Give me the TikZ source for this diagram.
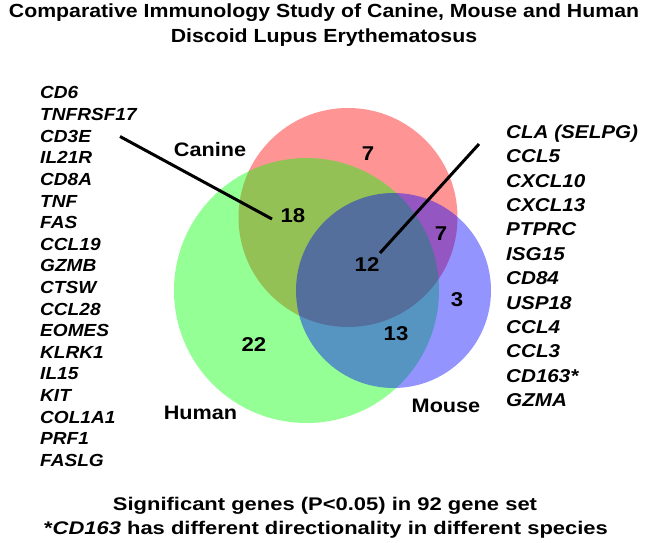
\documentclass[tikz,border=0pt]{standalone}
\usepackage{fontspec}
\setmainfont{Liberation Sans}
\newfontfamily\leftfont[FakeStretch=1.09]{Liberation Sans}
\newfontfamily\rightfont[FakeStretch=1.11]{Liberation Sans}
\newfontfamily\titlefont[FakeStretch=1.12]{Liberation Sans}
\newfontfamily\labfont[FakeStretch=1.11]{Liberation Sans}
\newfontfamily\footfont[FakeStretch=1.2]{Liberation Sans}
\definecolor{cred}{RGB}{255,0,0}
\definecolor{cgreen}{RGB}{0,255,0}
\definecolor{cblue}{RGB}{0,0,255}
\tikzset{
  setcircle/.style={opacity=0.42},
  lgene/.style={anchor=base west, inner sep=0pt, font=\leftfont\fontsize{17.5}{20}\selectfont\bfseries\itshape},
  rgene/.style={anchor=base west, inner sep=0pt, font=\rightfont\fontsize{18.6}{22}\selectfont\bfseries\itshape},
  titletext/.style={anchor=base, inner sep=0pt, font=\titlefont\fontsize{19}{22}\selectfont\bfseries},
  foottext/.style={anchor=base, inner sep=0pt, font=\footfont\fontsize{18.3}{22}\selectfont\bfseries},
  setlabel/.style={anchor=base, inner sep=0pt, font=\labfont\fontsize{19.5}{22}\selectfont\bfseries},
  count/.style={anchor=base, inner sep=0pt, font=\labfont\fontsize{20}{22}\selectfont\bfseries},
  pointer/.style={line width=3pt, black}
}
\begin{document}
\begin{tikzpicture}[x=1pt,y=-1pt]
\useasboundingbox (0,0) rectangle (648,543);
% circles
\fill[cred, setcircle] (348,217.5) circle[radius=109.5];
\fill[cgreen, setcircle] (306.5,290.5) circle[radius=132.5];
\fill[cblue, setcircle] (393.5,290.5) circle[radius=97.5];
% title
\node[titletext] (t1) at (324,18) {Comparative Immunology Study of Canine, Mouse and Human};
\node[titletext] (t2) at (324,43) {Discoid Lupus Erythematosus};
% left gene list
\foreach \g [count=\i from 0] in {CD6,TNFRSF17,CD3E,IL21R,CD8A,TNF,FAS,CCL19,GZMB,CTSW,CCL28,EOMES,KLRK1,IL15,KIT,COL1A1,PRF1,FASLG}
  \node[lgene] (L\i) at (40,{99+21.6*\i}) {\g};
% right gene list
\foreach \g [count=\i from 0] in {CLA (SELPG),CCL5,CXCL10,CXCL13,PTPRC,ISG15,CD84,USP18,CCL4,CCL3,CD163*,GZMA}
  \node[rgene] (R\i) at (506,{138.3+24.4*\i}) {\g};
% set labels
\node[setlabel] (canine) at (210,156.7) {Canine};
\node[setlabel] (human) at (200.5,419) {Human};
\node[setlabel] (mouse) at (446,412.3) {Mouse};
% counts
\node[count] (n7a) at (368,160.7) {7};
\node[count] (n18) at (293,222.7) {18};
\node[count] (n7b) at (441,240) {7};
\node[count] (n12) at (367,271.7) {12};
\node[count] (n3) at (457,306.7) {3};
\node[count] (n13) at (396,340) {13};
\node[count] (n22) at (254,351.7) {22};
% pointers
\coordinate (p1a) at (120,136.5);
\coordinate (p1b) at (272,219);
\coordinate (p2a) at (380,253);
\coordinate (p2b) at (479,144);
\draw[pointer] (p1a) -- (p1b);
\draw[pointer] (p2a) -- (p2b);
% footer
\node[foottext] (f1) at (325,510.7) {Significant genes (P<0.05) in 92 gene set};
\node[foottext] (f2) at (326,534.3) {*\textit{CD163} has different directionality in different species};
\end{tikzpicture}
\end{document}
